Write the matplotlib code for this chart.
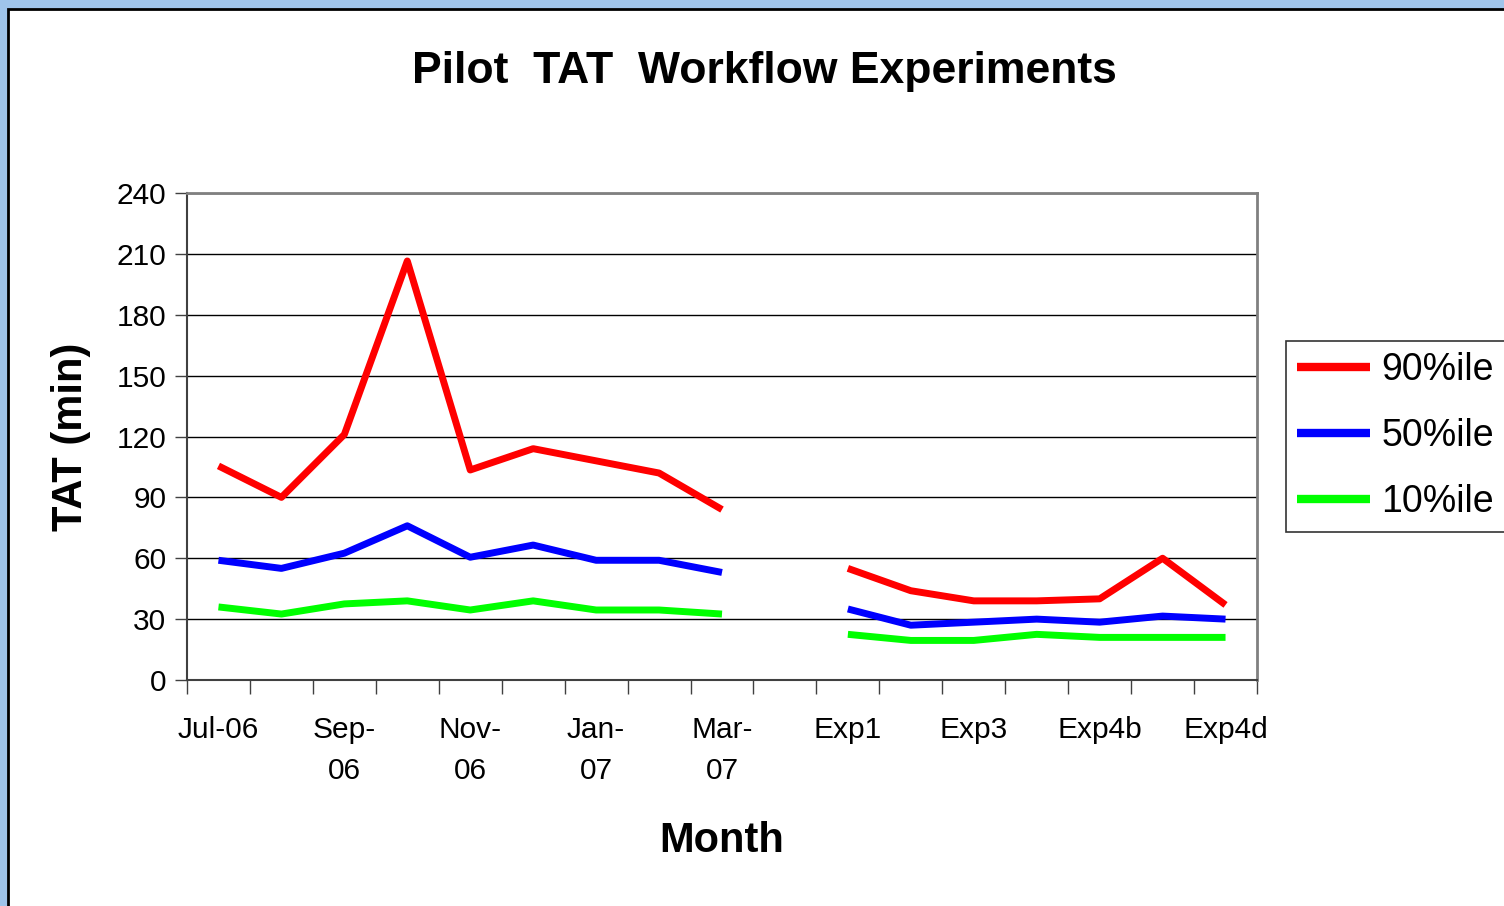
import numpy as np
import matplotlib
matplotlib.use("Agg")
import matplotlib.pyplot as plt
from matplotlib.patches import Rectangle

plt.rcParams['font.family'] = ['Liberation Sans', 'DejaVu Sans']

categorias = ["Jul-06", "Aug-06", "Sep-06", "Oct-06", "Nov-06", "Dec-06",
              "Jan-07", "Feb-07", "Mar-07", "", "Exp1", "Exp2", "Exp3",
              "Exp4a", "Exp4b", "Exp4c", "Exp4d"]
etiquetas = ["Jul-06", "", "Sep-\n06", "", "Nov-\n06", "", "Jan-\n07", "",
             "Mar-\n07", "", "Exp1", "", "Exp3", "", "Exp4b", "", "Exp4d"]

p90 = [105.5, 90, 121, 206.5, 103.5, 114, 108, 102, 84, np.nan,
       55, 44, 39, 39, 40, 60, 37]
p50 = [59, 55, 62.5, 76, 60.5, 66.5, 59, 59, 53, np.nan,
       35, 27, 28.5, 30, 28.5, 31.5, 30]
p10 = [36, 32.5, 37.5, 39, 34.5, 39, 34.5, 34.5, 32.5, np.nan,
       22.5, 19.5, 19.5, 22.5, 21, 21, 21]

W, H = 1504, 906
fig = plt.figure(figsize=(W / 100, H / 100), dpi=100)
fig.patch.set_facecolor("#9fc4ea")

# marco blanco de la diapositiva
fig.patches.append(Rectangle((8 / W, -0.01), 1.01, 1 - 9 / H + 0.01,
                             transform=fig.transFigure, facecolor="white",
                             edgecolor="black", linewidth=2, zorder=-5))

ax = fig.add_axes([187 / W, 1 - 680 / H, (1257 - 187) / W, (680 - 193) / H])
x = np.arange(len(categorias))

ax.plot(x, p90, color="#ff0000", linewidth=5, label="90%ile", solid_capstyle="butt")
ax.plot(x, p50, color="#0000ff", linewidth=5, label="50%ile", solid_capstyle="butt")
ax.plot(x, p10, color="#00ff00", linewidth=5, label="10%ile", solid_capstyle="butt")

ax.set_xlim(-0.5, len(categorias) - 0.5)
ax.set_ylim(0, 240)
ax.set_yticks(range(0, 241, 30))
ax.grid(axis="y", color="black", linewidth=1)
ax.set_axisbelow(True)

ax.set_xticks(x)
ax.set_xticklabels(etiquetas, fontsize=21.5, linespacing=1.6, va="top")
ax.set_xticks(np.arange(-0.5, len(categorias), 1), minor=True)
ax.tick_params(axis="x", which="major", length=0, pad=26)
ax.tick_params(axis="x", which="minor", length=10, width=1, color="#404040")
ax.tick_params(axis="y", labelsize=21.5, length=9, width=1, color="#404040", pad=6)

for s in ["top", "right"]:
    ax.spines[s].set_color("#808080")
    ax.spines[s].set_linewidth(2)
for s in ["left", "bottom"]:
    ax.spines[s].set_color("#404040")
    ax.spines[s].set_linewidth(1.5)

ax.set_ylabel("TAT (min)", fontsize=30, fontweight="bold", labelpad=18)
ax.set_xlabel("Month", fontsize=30, fontweight="bold", labelpad=26)
fig.text(764 / W, 1 - 72 / H, "Pilot  TAT  Workflow Experiments",
         fontsize=32, fontweight="bold", ha="center", va="center")

leg = ax.legend(loc="center left", bbox_to_anchor=(1.027, 0.5), fontsize=27,
                frameon=True, fancybox=False, edgecolor="black",
                handlelength=1.95, handletextpad=0.3, labelspacing=0.8,
                borderpad=0.3, borderaxespad=0)
leg.get_frame().set_linewidth(1.2)
for linea in leg.get_lines():
    linea.set_linewidth(6)

fig.savefig("out.png", dpi=100, facecolor=fig.get_facecolor())
